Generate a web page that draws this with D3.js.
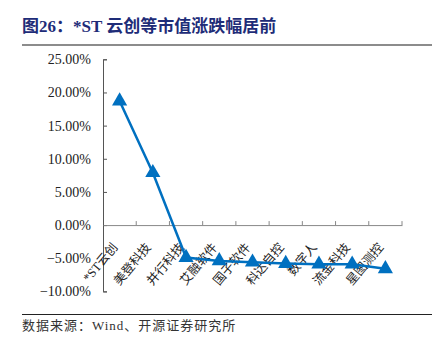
<!DOCTYPE html>
<html><head><meta charset="utf-8">
<script src="https://cdn.jsdelivr.net/npm/d3@7/dist/d3.min.js"></script>
<style>body{margin:0;background:#fff}</style>
</head><body><svg id="c" width="441" height="352"></svg>
<script>
const categories = ["*ST云创","美登科技","并行科技","艾融软件","国子软件","科达自控","数字人","流金科技","星图测控"];
const values = [18.7, 7.9, -4.9, -5.4, -5.6, -5.8, -5.9, -5.9, -6.6];
const yTicks = [25, 20, 15, 10, 5, 0, -5, -10];
const title = "图26：*ST 云创等市值涨跌幅居前";
const source = "数据来源：Wind、开源证券研究所";

const svg = d3.select("#c");
const serif = "'Liberation Serif','Times New Roman','Noto Sans CJK SC',serif";

svg.append("text").attr("x", 22).attr("y", 32).attr("fill", "#1E2C78")
  .attr("font-family", serif).attr("font-weight", "bold").attr("font-size", 17).text(title);
svg.append("line").attr("x1", 22).attr("x2", 432).attr("y1", 45).attr("y2", 45)
  .attr("stroke", "#666").attr("stroke-width", 1.5);
svg.append("line").attr("x1", 22).attr("x2", 432).attr("y1", 314.5).attr("y2", 314.5)
  .attr("stroke", "#222").attr("stroke-width", 1);
svg.append("text").attr("x", 22).attr("y", 330).attr("fill", "#333")
  .attr("font-family", serif).attr("font-size", 13).attr("letter-spacing", 1).text(source);

const x = d3.scaleBand().domain(categories).range([103, 402]);
const y = d3.scaleLinear().domain([-10, 25]).range([291.4, 59.3]);

// y axis
const ya = svg.append("g").attr("transform", "translate(103,0)")
  .call(d3.axisRight(y).tickValues(yTicks).tickSize(4).tickFormat(""));
ya.select(".domain").attr("stroke", "#555");
ya.selectAll(".tick line").attr("stroke", "#555");
svg.append("g").selectAll("text").data(yTicks).join("text")
  .attr("x", 91).attr("y", d => y(d)).attr("dy", "0.35em").attr("text-anchor", "end")
  .attr("font-family", serif).attr("font-size", 14).attr("fill", "#222")
  .text(d => d3.format(".2f")(d) + "%");

// x axis at 0
const xa = svg.append("g").attr("transform", `translate(0,${y(0)})`)
  .call(d3.axisTop(x).tickSize(0).tickFormat(""));
xa.select(".domain").attr("stroke", "#888");
const edges = categories.map((c) => x(c) + x.bandwidth());
svg.append("g").selectAll("line").data(edges).join("line")
  .attr("x1", d => d).attr("x2", d => d).attr("y1", y(0)).attr("y2", y(0) - 4)
  .attr("stroke", "#888");

// x labels
svg.append("g").selectAll("text").data(categories).join("text")
  .attr("transform", d => `translate(${x(d) + x.bandwidth()/2 - 8},${y(0) + 17}) rotate(-50)`)
  .attr("text-anchor", "end").attr("dy", "0.7em")
  .attr("font-family", serif).attr("font-size", 12.5).attr("fill", "#222")
  .text(d => d);

// line
const line = d3.line().x((d, i) => x(categories[i]) + x.bandwidth()/2).y(d => y(d));
svg.append("path").datum(values).attr("d", line).attr("fill", "none")
  .attr("stroke", "#0070C0").attr("stroke-width", 2.5);
svg.append("g").selectAll("path").data(values).join("path")
  .attr("transform", (d, i) => `translate(${x(categories[i]) + x.bandwidth()/2},${y(d)})`)
  .attr("d", d3.symbol(d3.symbolTriangle, 100)).attr("fill", "#0070C0");
</script></body></html>
